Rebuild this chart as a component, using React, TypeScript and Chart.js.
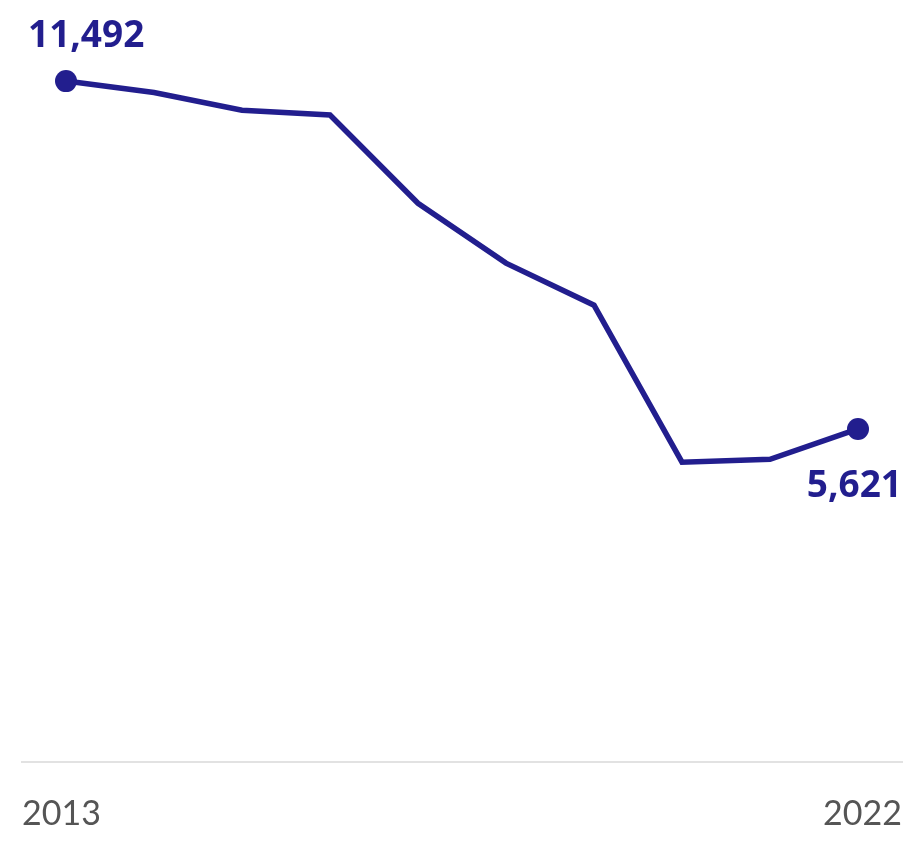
import React, { useEffect, useRef } from "react";
import { Chart, registerables } from "chart.js";

Chart.register(...registerables);

const years: number[] = [2013, 2014, 2015, 2016, 2017, 2018, 2019, 2020, 2021, 2022];
const values: number[] = [11492, 11300, 11000, 10920, 9430, 8420, 7710, 5060, 5110, 5621];
const tickLabels: string[] = ["2013", "2022"];
const endLabels: string[] = ["11,492", "5,621"];

const NAVY = "#221e8e";

const endLabelPlugin = {
  id: "endLabels",
  afterDatasetsDraw(chart: any) {
    const meta = chart.getDatasetMeta(0);
    const pts = meta.data;
    if (!pts || pts.length === 0) return;
    const ctx = chart.ctx;
    const area = chart.chartArea;
    ctx.save();
    ctx.font = "bold 37px 'Noto Sans', sans-serif";
    ctx.fillStyle = NAVY;
    ctx.textBaseline = "alphabetic";
    ctx.textAlign = "left";
    const p0 = pts[0];
    const w0 = ctx.measureText(endLabels[0]).width;
    let x0 = p0.x - w0 / 2;
    if (x0 < area.left + 6) x0 = area.left + 6;
    ctx.fillText(endLabels[0], x0, p0.y - 34);
    const pl = pts[pts.length - 1];
    const wl = ctx.measureText(endLabels[1]).width;
    let xl = pl.x - wl / 2;
    if (xl + wl > area.right) xl = area.right - wl;
    ctx.fillText(endLabels[1], xl, pl.y + 68);
    ctx.restore();
  },
};

export default function App() {
  const ref = useRef<HTMLCanvasElement | null>(null);
  useEffect(() => {
    if (!ref.current) return;
    const lastIdx = values.length - 1;
    const chart = new Chart(ref.current, {
      type: "line",
      data: {
        datasets: [
          {
            data: years.map((y, i) => ({ x: y, y: values[i] })),
            borderColor: NAVY,
            backgroundColor: NAVY,
            borderWidth: 5.5,
            tension: 0,
            pointRadius: years.map((_, i) => (i === 0 || i === lastIdx ? 11 : 0)),
            pointHoverRadius: 0,
            pointBackgroundColor: NAVY,
            pointBorderWidth: 0,
            clip: false as any,
          },
        ],
      },
      options: {
        animation: false,
        responsive: true,
        maintainAspectRatio: false,
        layout: { padding: { left: 22, right: 16, top: 51, bottom: 0 } },
        plugins: { legend: { display: false }, tooltip: { enabled: false } },
        scales: {
          x: {
            type: "linear",
            min: years[0] - 0.5,
            max: years[lastIdx] + 0.5,
            afterBuildTicks: (scale: any) => {
              scale.ticks = [{ value: years[0] - 0.5 }, { value: years[lastIdx] + 0.5 }];
            },
            afterFit: (scale: any) => {
              scale.paddingLeft = 0;
              scale.paddingRight = 0;
              scale.height = 86;
            },
            grid: { display: false, drawTicks: false },
            border: { display: true, color: "#e2e2e2", width: 2 },
            ticks: {
              align: "inner",
              padding: 49,
              color: "#555555",
              font: { family: "Lato, 'Noto Sans', sans-serif", size: 34, weight: "normal", lineHeight: 0.15 },
              callback: (_v: any, i: number) => tickLabels[i],
              maxRotation: 0,
              autoSkip: false,
            },
          },
          y: {
            display: false,
            min: 0,
            max: 12000,
          },
        },
      },
      plugins: [endLabelPlugin],
    });
    return () => chart.destroy();
  }, []);
  return (
    <div style={{ position: "fixed", left: 0, top: 0, width: 918, height: 848, background: "#ffffff" }}>
      <canvas ref={ref} />
    </div>
  );
}
